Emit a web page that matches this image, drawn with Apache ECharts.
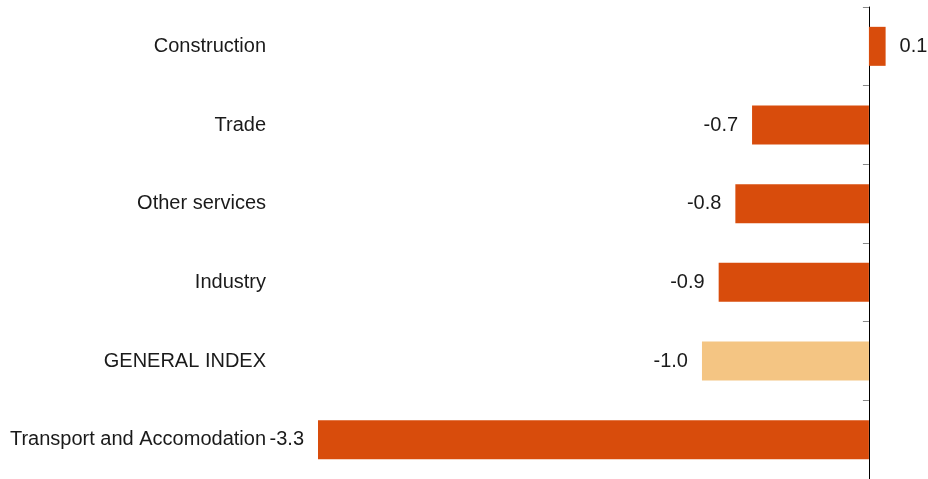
<!DOCTYPE html>
<html>
<head>
<meta charset="utf-8">
<script src="https://cdn.jsdelivr.net/npm/echarts@6/dist/echarts.min.js"></script>
<style>
  html, body { margin: 0; padding: 0; background: #fff; }
  #main { width: 928px; height: 479px; }
</style>
</head>
<body>
<div id="main"></div>
<script>
// 分类（从上到下）
var categories = ['Construction', 'Trade', 'Other services', 'Industry', 'GENERAL INDEX', 'Transport and Accomodation'];
// 数值
var values = [0.1, -0.7, -0.8, -0.9, -1.0, -3.3];
// 高亮的分类
var highlight = 'GENERAL INDEX';

var mainColor = '#d84c0c';
var lightColor = '#f4c583';
var font = '"Liberation Sans", Arial, sans-serif';

var chart = echarts.init(document.getElementById('main'));

chart.setOption({
    backgroundColor: '#fff',
    animation: false,
    grid: {
        left: 318,
        right: 9,
        top: 7,
        height: 474
    },
    xAxis: {
        type: 'value',
        min: -3.3,
        max: 0.3,
        show: false
    },
    yAxis: [
        {
            // 左边的分类文字
            type: 'category',
            data: categories,
            inverse: true,
            position: 'left',
            axisLine: { show: false, onZero: false },
            axisTick: { show: false },
            axisLabel: {
                margin: 52,
                color: '#1a1a1a',
                fontSize: 20,
                fontFamily: font,
                padding: [4, 0, 0, 0]
            }
        },
        {
            // 零位置的竖线和刻度
            type: 'category',
            data: categories,
            inverse: true,
            position: 'left',
            axisLine: { show: true, onZero: true, lineStyle: { color: '#000', width: 1 } },
            axisTick: { show: true, length: 6, lineStyle: { color: '#888', width: 1 } },
            axisLabel: { show: false }
        }
    ],
    series: [
        {
            type: 'bar',
            yAxisIndex: 0,
            barWidth: 39,
            data: values.map(function (v, i) {
                return {
                    value: v,
                    itemStyle: { color: categories[i] === highlight ? lightColor : mainColor },
                    label: { position: v >= 0 ? 'right' : 'left' }
                };
            }),
            label: {
                show: true,
                distance: 14,
                color: '#1a1a1a',
                fontSize: 20,
                fontFamily: font,
                padding: [4, 0, 0, 0],
                formatter: function (p) { return p.value.toFixed(1); }
            }
        }
    ]
});
</script>
</body>
</html>
